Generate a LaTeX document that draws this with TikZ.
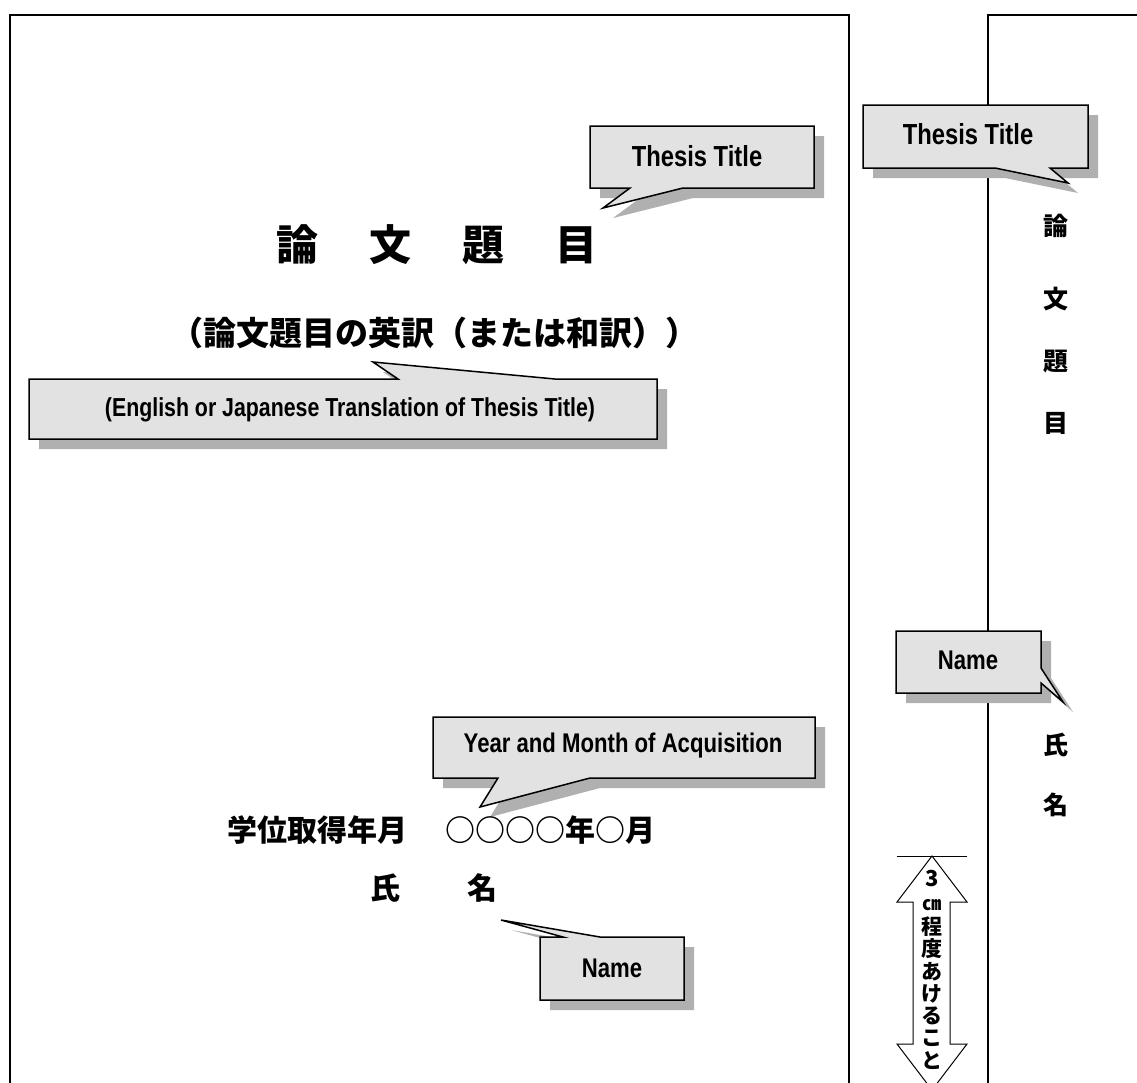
\documentclass[tikz,border=0pt]{standalone}
\usepackage{fontspec}
\newfontfamily\jp{Noto Sans CJK JP}
\newfontfamily\en[FakeStretch=0.82]{Liberation Sans}
\definecolor{boxgray}{HTML}{E2E2E2}
\definecolor{shadowgray}{HTML}{B0B0B0}
\tikzset{
  pageline/.style={line width=1.6pt, draw=black},
  callbox/.style={fill=boxgray, draw=black, line width=1.5pt, line join=miter},
  callshadow/.style={fill=shadowgray},
  entext/.style={inner sep=0, font={\en\bfseries\fontsize{#1}{#1}\selectfont}},
  jptext/.style={inner sep=0, font={\jp\bfseries\fontsize{#1}{#1}\selectfont}},
  arrowshape/.style={fill=white, draw=black, line width=1pt, line join=miter}
}
\newcommand\mycallout[1]{%
  \fill[callshadow, shift={(10,10)}] #1 -- cycle;
  \filldraw[callbox] #1 -- cycle;}
\begin{document}
\begin{tikzpicture}[x=1pt,y=-1pt]
\useasboundingbox (0,0) rectangle (1137,1082);
\fill[white] (0,0) rectangle (1137,1082);
% pages
\draw[pageline] (10,1083) -- (10,15) -- (849,15) -- (849,1083);
\draw[pageline] (988,1083) -- (988,15) -- (1140,15);

% ---- left page callouts
\mycallout{(590,126) -- (814,126) -- (814,188) -- (683,188) -- (603,208) -- (630,188) -- (590,188)}
\node[entext=29] (tt1) at (697,156) {Thesis Title};

\mycallout{(29,379) -- (398,379) -- (373,362) -- (555,379) -- (657,379) -- (657,439) -- (29,439)}
\node[entext=26] (entr) at (350,410) {(English or Japanese Translation of Thesis Title)};

\mycallout{(433,717) -- (815,717) -- (815,778) -- (590,778) -- (480,807) -- (498,778) -- (433,778)}
\node[entext=27] (ym) at (623,746) {Year and Month of Acquisition};

\mycallout{(540,937) -- (563,937) -- (501,920) -- (600,937) -- (684,937) -- (684,1000) -- (540,1000)}
\node[entext=27] (nm1) at (612,968) {Name};

% ---- left page text
\node[jptext=42] (title) at (437,245) {論\hspace{51pt}文\hspace{51pt}題\hspace{51pt}目};
\node[jptext=33] (trans) at (434,333) {（論文題目の英訳（または和訳））};
\node[jptext=30] (degree) at (317,830) {学位取得年月};
\node[jptext=30] (date) at (550,830) {○○○○年○月};
\node[jptext=30] (shi) at (385,888) {氏};
\node[jptext=30] (mei) at (482,888) {名};

% ---- right page callouts
\mycallout{(863,105) -- (1088,105) -- (1088,168) -- (1050,168) -- (1068,183) -- (995,168) -- (863,168)}
\node[entext=29] (tt2) at (968,134) {Thesis Title};

\mycallout{(896,631) -- (1041,631) -- (1041,668) -- (1063,702) -- (1041,683) -- (1041,693) -- (896,693)}
\node[entext=27] (nm2) at (968,660) {Name};

% ---- right page vertical text
\node[jptext=25] (r1) at (1056,226) {論};
\node[jptext=25] (r2) at (1056,299) {文};
\node[jptext=25] (r3) at (1056,362) {題};
\node[jptext=25] (r4) at (1056,423) {目};
\node[jptext=25] (r5) at (1056,745) {氏};
\node[jptext=25] (r6) at (1056,805) {名};

% ---- double arrow (3cm gap)
\draw[line width=1pt] (897,856) -- (967,856);
\filldraw[arrowshape] (932,856) -- (967,902) -- (950,902) -- (950,1044) -- (967,1044)
  -- (932,1090) -- (897,1044) -- (913,1044) -- (913,902) -- (897,902) -- cycle;
\node[jptext=22] (three) at (932,878) {3};
\node[jptext=19] (cm) at (932,905) {㎝};
\node[jptext=21, align=center, font={\jp\bfseries\fontsize{21}{22.3}\selectfont}] (gap) at (932,993)
  {程\\度\\あ\\け\\る\\こ\\と};
\end{tikzpicture}
\end{document}
